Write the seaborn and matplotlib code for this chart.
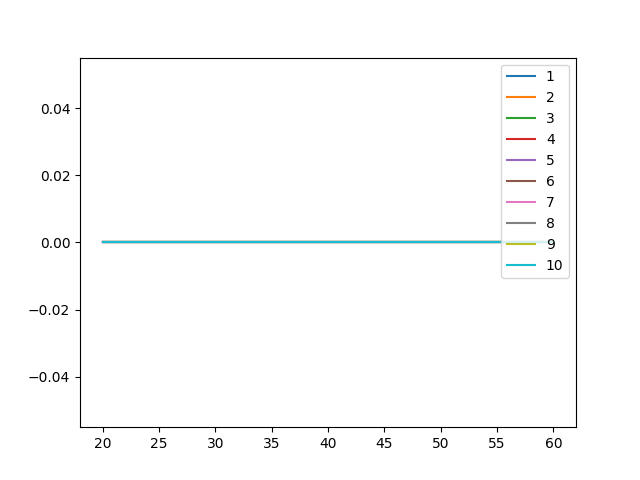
import matplotlib
matplotlib.use("Agg")
import matplotlib.pyplot as plt
import seaborn as sns
import pandas as pd

x_values = [20, 25, 30, 35, 40, 45, 50, 55, 60]
series_labels = ["1", "2", "3", "4", "5", "6", "7", "8", "9", "10"]
series_values = {lab: [0, 0, 0, 0, 0, 0, 0, 0, 0] for lab in series_labels}

rows = []
for lab in series_labels:
    for xv, yv in zip(x_values, series_values[lab]):
        rows.append({"x": xv, "y": yv, "series": lab})
df = pd.DataFrame(rows)

fig, ax = plt.subplots(figsize=(6.4, 4.8), dpi=100)
palette = sns.color_palette("tab10", 10)
for i, lab in enumerate(series_labels):
    sub = df[df["series"] == lab]
    sns.lineplot(data=sub, x="x", y="y", ax=ax, color=palette[i], label=lab)
ax.set_xlabel("")
ax.set_ylabel("")
ax.legend(loc="upper right")
fig.savefig("out.png", dpi=100)
